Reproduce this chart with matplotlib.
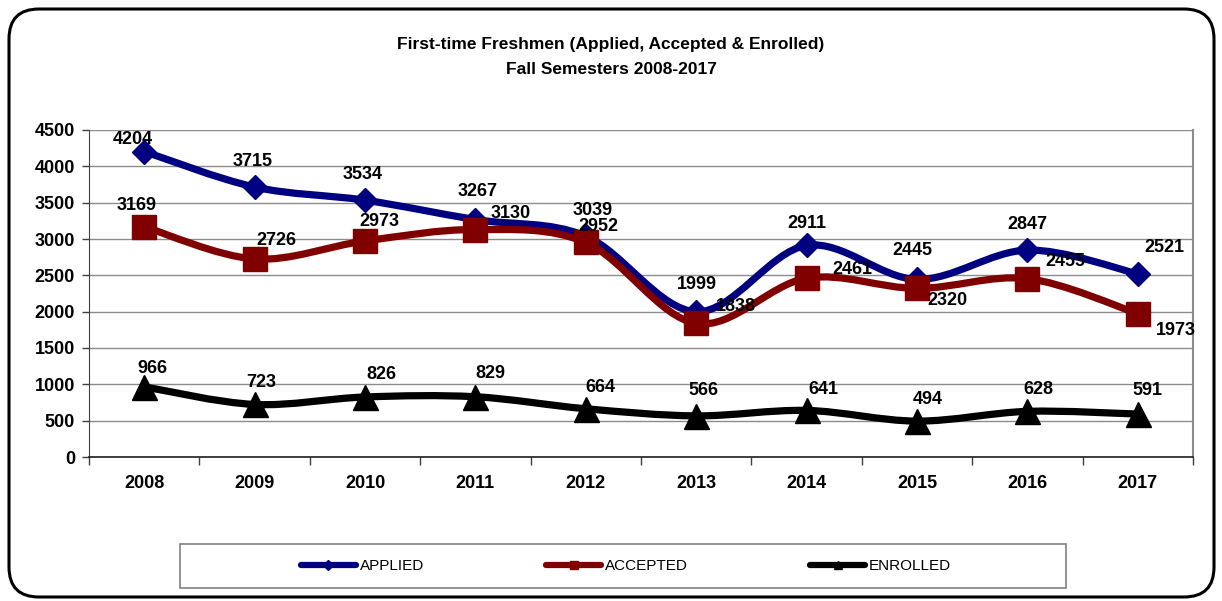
import matplotlib.pyplot as plt
import matplotlib as mpl
from matplotlib.path import Path
from matplotlib.patches import PathPatch, FancyBboxPatch, Rectangle
from matplotlib.lines import Line2D

FONT = ["Liberation Sans Narrow", "Liberation Sans", "DejaVu Sans"]
mpl.rcParams["font.family"] = FONT

# ── Data ──────────────────────────────────────────────────────────
years = ["2008", "2009", "2010", "2011", "2012",
         "2013", "2014", "2015", "2016", "2017"]
applied = [4204, 3715, 3534, 3267, 3039, 1999, 2911, 2445, 2847, 2521]
accepted = [3169, 2726, 2973, 3130, 2952, 1838, 2461, 2320, 2455, 1973]
enrolled = [966, 723, 826, 829, 664, 566, 641, 494, 628, 591]
y_ticks = [0, 500, 1000, 1500, 2000, 2500, 3000, 3500, 4000, 4500]

# label offsets in pixels (dx, dy up)
off_applied = [(-11, 12), (-2, 26), (-2, 26), (2, 28), (7, 26),
               (1, 27), (0, 22), (-5, 29), (0, 26), (27, 26)]
off_accepted = [(-8, 21), (22, 18), (14, 19), (35, 16), (13, 16),
                (40, 17), (46, 9), (30, -12), (38, 17), (38, -17)]
off_enrolled = [(8, 18), (7, 22), (16, 22), (15, 23), (15, 21),
                (7, 25), (17, 21), (11, 22), (11, 22), (10, 24)]

NAVY = "#000080"
MAROON = "#800000"
BLACK = "#000000"
GRID = "#8c8c8c"


def smooth_path(xs, ys):
    """Excel-style smoothed line: Catmull-Rom segments as cubic Beziers."""
    pts = list(zip(xs, ys))
    n = len(pts)
    verts = [pts[0]]
    codes = [Path.MOVETO]
    for i in range(n - 1):
        p0 = pts[i - 1] if i > 0 else pts[i]
        p1 = pts[i]
        p2 = pts[i + 1]
        p3 = pts[i + 2] if i + 2 < n else pts[i + 1]
        c1 = (p1[0] + (p2[0] - p0[0]) / 6, p1[1] + (p2[1] - p0[1]) / 6)
        c2 = (p2[0] - (p3[0] - p1[0]) / 6, p2[1] - (p3[1] - p1[1]) / 6)
        verts += [c1, c2, p2]
        codes += [Path.CURVE4] * 3
    return Path(verts, codes)


fig = plt.figure(figsize=(12.22, 6.01), dpi=100)

# ── Background: rounded outer frame + legend box (pixel coords) ──
bg = fig.add_axes([0, 0, 1, 1], zorder=0)
bg.set_xlim(0, 1222)
bg.set_ylim(601, 0)
bg.axis("off")
bg.add_patch(FancyBboxPatch((9, 9), 1205, 588,
                            boxstyle="round,pad=0,rounding_size=30",
                            facecolor="white", edgecolor="black", lw=2.2))
bg.add_patch(Rectangle((180, 544), 886, 44, facecolor="white",
                       edgecolor="#808080", lw=1.2))

# ── Title ─────────────────────────────────────────────────────────
fig.text(0.5, 1 - 45 / 601, "First-time Freshmen (Applied, Accepted & Enrolled)",
         ha="center", va="center", fontsize=12.5, fontweight="bold")
fig.text(0.5, 1 - 70 / 601, "Fall Semesters 2008-2017",
         ha="center", va="center", fontsize=12.5, fontweight="bold")

# ── Plot area ─────────────────────────────────────────────────────
ax = fig.add_axes([89 / 1222, 1 - 457 / 601, 1104 / 1222, 327 / 601], zorder=1)
ax.set_facecolor("none")
x = list(range(len(years)))
ax.set_xlim(-0.5, len(years) - 0.5)
ax.set_ylim(0, 4500)
ax.set_yticks(y_ticks)
ax.set_yticklabels([str(v) for v in y_ticks])
ax.set_xticks(x)
ax.set_xticklabels(years)
ax.set_xticks([i - 0.5 for i in range(len(years) + 1)], minor=True)
ax.tick_params(axis="x", which="major", length=0, pad=13)
ax.tick_params(axis="x", which="minor", length=6, width=1, color="#404040",
               direction="out")
ax.tick_params(axis="y", length=5, width=1, color="#404040", pad=5)
for lbl in ax.get_xticklabels() + ax.get_yticklabels():
    lbl.set_fontsize(13)
    lbl.set_fontweight("bold")
ax.grid(axis="y", color=GRID, lw=1)
ax.set_axisbelow(True)
ax.spines["top"].set_visible(False)
ax.spines["right"].set_color(GRID)
ax.spines["right"].set_linewidth(1.5)
ax.spines["left"].set_color("#404040")
ax.spines["bottom"].set_color("#202020")
ax.spines["bottom"].set_linewidth(1.2)

series = [
    (applied, NAVY, "D", 12, off_applied, "APPLIED"),
    (accepted, MAROON, "s", 17, off_accepted, "ACCEPTED"),
    (enrolled, BLACK, "^", 18, off_enrolled, "ENROLLED"),
]

for z, (vals, col, mk, ms, offs, name) in enumerate(series):
    ax.add_patch(PathPatch(smooth_path(x, vals), facecolor="none",
                           edgecolor=col, lw=5.2, capstyle="round",
                           zorder=3 + z))
    ax.plot(x, vals, ls="none", marker=mk, ms=ms, color=col,
            markeredgecolor=col, zorder=3.5 + z)

for vals, col, mk, ms, offs, name in series:
    for xi, v, (dx, dy) in zip(x, vals, offs):
        ax.annotate(str(v), (xi, v), xytext=(dx, dy),
                    textcoords="offset pixels", ha="center", va="center",
                    fontsize=13, fontweight="bold", zorder=10)

# ── Legend ────────────────────────────────────────────────────────
handles = [Line2D([], [], color=col, lw=4.5, marker=mk, ms=5.5,
                  solid_capstyle="round")
           for vals, col, mk, ms, offs, name in series]
labels = [s[5] for s in series]
fig.legend(handles, labels, loc="center",
           bbox_to_anchor=(626 / 1222, 1 - 566 / 601), ncol=3,
           frameon=False, fontsize=11, handlelength=3.6,
           handletextpad=0.25, columnspacing=8.0)

fig.savefig("out.png", dpi=100, facecolor="white")
